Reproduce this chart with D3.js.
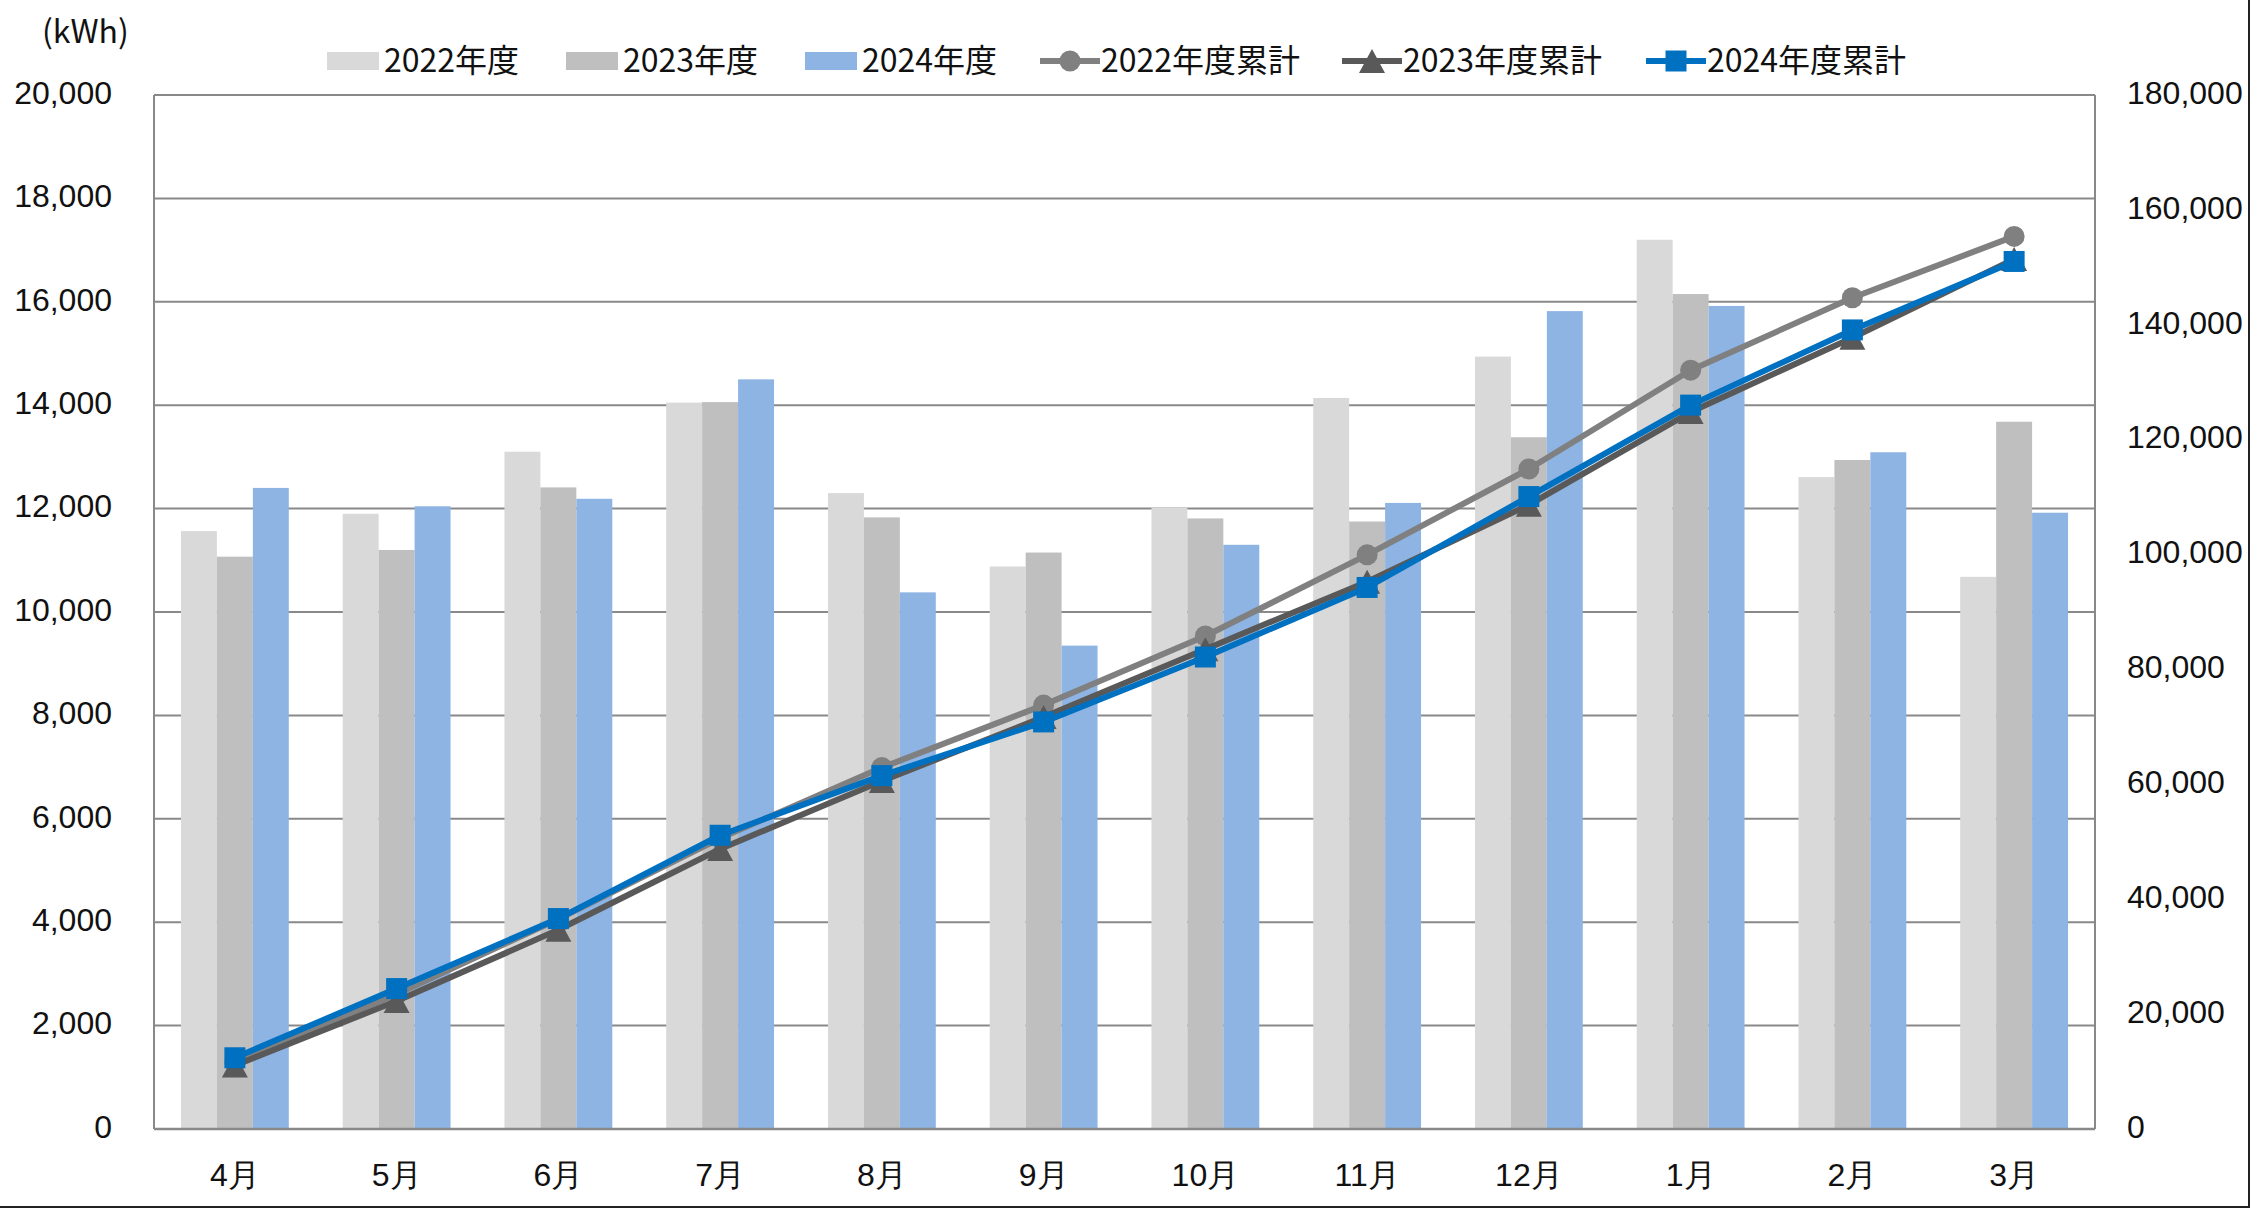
<!DOCTYPE html>
<html>
<head>
<meta charset="utf-8">
<script src="https://cdn.jsdelivr.net/npm/d3@7"></script>
<style>
    body { margin: 0; background: #fff; }
    svg { display: block; font-family: 'Noto Sans CJK JP', 'Noto Sans', sans-serif; }
</style>
</head>
<body>
<div id="chart"></div>
<script>
const months = ['4月', '5月', '6月', '7月', '8月', '9月', '10月', '11月', '12月', '1月', '2月', '3月'];
const barSeries = ['2022年度', '2023年度', '2024年度'];
const lineSeries = ['2022年度累計', '2023年度累計', '2024年度累計'];

// monthly usage (kWh)
const usage2022 = [11565, 11900, 13100, 14050, 12300, 10880, 12020, 14140, 14940, 17200, 12610, 10680];
const usage2023 = [11070, 11200, 12410, 14060, 11830, 11150, 11810, 11750, 13380, 16150, 12940, 13680];
const usage2024 = [12400, 12045, 12190, 14500, 10380, 9350, 11300, 12110, 15820, 15920, 13090, 11920];

// running totals (kWh)
const total2022 = [11565, 23465, 36565, 50615, 62915, 73795, 85815, 99955, 114895, 132095, 144705, 155385];
const total2023 = [11070, 22270, 34680, 48740, 60570, 71720, 83530, 95280, 108660, 124810, 137750, 151430];
const total2024 = [12400, 24445, 36635, 51135, 61515, 70865, 82165, 94275, 110095, 126015, 139105, 151025];

const leftTicks = [0, 2000, 4000, 6000, 8000, 10000, 12000, 14000, 16000, 18000, 20000];
const rightTicks = [0, 20000, 40000, 60000, 80000, 100000, 120000, 140000, 160000, 180000];

const barColors = ['#D9D9D9', '#BFBFBF', '#8EB4E3'];
const lineColors = ['#808080', '#595959', '#0070C0'];
const markerTypes = ['circle', 'triangle', 'square'];

const width = 2262;
const height = 1208;
const plot = { left: 154, right: 2095, top: 95, bottom: 1129 };
const gridColor = '#898989';
const textColor = '#111';
const fontSize = '32px';

const svg = d3.select('#chart').append('svg')
    .attr('width', width)
    .attr('height', height);

const x0 = d3.scaleBand()
    .domain(months)
    .range([plot.left, plot.right])
    .paddingInner(1 / 3)
    .paddingOuter(1 / 6);
const x1 = d3.scaleBand()
    .domain(barSeries)
    .range([0, x0.bandwidth()]);
const yLeft = d3.scaleLinear().domain([0, 20000]).range([plot.bottom, plot.top]);
const yRight = d3.scaleLinear().domain([0, 180000]).range([plot.bottom, plot.top]);

const usage = [usage2022, usage2023, usage2024];
const totals = [total2022, total2023, total2024];

// gridlines
svg.append('g')
    .selectAll('line')
    .data(leftTicks)
    .enter()
    .append('line')
    .attr('x1', plot.left)
    .attr('x2', plot.right)
    .attr('y1', (d) => yLeft(d))
    .attr('y2', (d) => yLeft(d))
    .attr('stroke', gridColor)
    .attr('stroke-width', 2);

// plot side lines
svg.append('line')
    .attr('x1', plot.left).attr('x2', plot.left)
    .attr('y1', plot.top).attr('y2', plot.bottom)
    .attr('stroke', gridColor).attr('stroke-width', 2);
svg.append('line')
    .attr('x1', plot.right).attr('x2', plot.right)
    .attr('y1', plot.top).attr('y2', plot.bottom)
    .attr('stroke', gridColor).attr('stroke-width', 2);

// bars
const rows = months.map((m, i) => ({
    month: m,
    values: barSeries.map((s, j) => ({ key: s, value: usage[j][i], color: barColors[j] })),
}));
svg.append('g')
    .selectAll('g')
    .data(rows)
    .enter()
    .append('g')
    .attr('transform', (d) => `translate(${x0(d.month)},0)`)
    .selectAll('rect')
    .data((d) => d.values)
    .enter()
    .append('rect')
    .attr('x', (d) => x1(d.key))
    .attr('width', x1.bandwidth())
    .attr('y', (d) => yLeft(d.value))
    .attr('height', (d) => yLeft(0) - yLeft(d.value))
    .attr('fill', (d) => d.color);

// baseline on top of bars
svg.append('line')
    .attr('x1', plot.left).attr('x2', plot.right)
    .attr('y1', plot.bottom).attr('y2', plot.bottom)
    .attr('stroke', gridColor).attr('stroke-width', 2.5);

function markerPath(type) {
    if (type === 'triangle') {
        return 'M0,-12L13,12L-13,12Z';
    }
    if (type === 'square') {
        return d3.symbol().type(d3.symbolSquare).size(21 * 21)();
    }
    return d3.symbol().type(d3.symbolCircle).size(Math.PI * 10.5 * 10.5)();
}

// cumulative lines
const cx = (m) => x0(m) + x0.bandwidth() / 2;
const line = d3.line()
    .x((d) => cx(d.month))
    .y((d) => yRight(d.value));

lineSeries.forEach((name, j) => {
    const pts = months.map((m, i) => ({ month: m, value: totals[j][i] }));
    const g = svg.append('g').attr('class', 'series');
    g.append('path')
        .datum(pts)
        .attr('d', line)
        .attr('fill', 'none')
        .attr('stroke', lineColors[j])
        .attr('stroke-width', 6)
        .attr('stroke-linejoin', 'round');
    g.selectAll('.marker')
        .data(pts)
        .enter()
        .append('path')
        .attr('class', 'marker')
        .attr('transform', (d) => `translate(${cx(d.month)},${yRight(d.value)})`)
        .attr('d', markerPath(markerTypes[j]))
        .attr('fill', lineColors[j]);
});

// axes
const styleAxis = (g) => {
    g.select('.domain').remove();
    g.selectAll('.tick line').remove();
    g.selectAll('.tick text')
        .attr('fill', textColor)
        .style('font-size', fontSize);
};

svg.append('g')
    .attr('transform', `translate(${plot.left},0)`)
    .call(d3.axisLeft(yLeft).tickValues(leftTicks).tickSize(0).tickPadding(42).tickFormat(d3.format(',')))
    .call(styleAxis)
    .call((g) => g.selectAll('.tick text').attr('dy', '0.26em'));

svg.append('g')
    .attr('transform', `translate(${plot.right},0)`)
    .call(d3.axisRight(yRight).tickValues(rightTicks).tickSize(0).tickPadding(32).tickFormat(d3.format(',')))
    .call(styleAxis)
    .call((g) => g.selectAll('.tick text').attr('dy', '0.26em'));

svg.append('g')
    .attr('transform', `translate(0,${plot.bottom})`)
    .call(d3.axisBottom(x0).tickSize(0))
    .call(styleAxis)
    .call((g) => g.selectAll('.tick text').attr('y', 47).attr('dy', '0.32em'));

// unit label
svg.append('text')
    .attr('x', 42)
    .attr('y', 33)
    .attr('dy', '0.32em')
    .attr('fill', textColor)
    .style('font-size', fontSize)
    .text('(kWh)');

// legend
const legendY = 61;
const barLegendX = [327, 566, 805];
barSeries.forEach((name, j) => {
    svg.append('rect')
        .attr('x', barLegendX[j])
        .attr('y', legendY - 9)
        .attr('width', 52)
        .attr('height', 18)
        .attr('fill', barColors[j]);
    svg.append('text')
        .attr('x', barLegendX[j] + 57)
        .attr('y', legendY)
        .attr('dy', '0.34em')
        .attr('fill', textColor)
        .style('font-size', fontSize)
        .text(name);
});

const lineLegendX = [1040, 1342, 1646];
lineSeries.forEach((name, j) => {
    const lx = lineLegendX[j];
    svg.append('line')
        .attr('x1', lx).attr('x2', lx + 60)
        .attr('y1', legendY).attr('y2', legendY)
        .attr('stroke', lineColors[j])
        .attr('stroke-width', 6);
    svg.append('path')
        .attr('transform', `translate(${lx + 30},${legendY})`)
        .attr('d', markerPath(markerTypes[j]))
        .attr('fill', lineColors[j]);
    svg.append('text')
        .attr('x', lx + 61)
        .attr('y', legendY)
        .attr('dy', '0.34em')
        .attr('fill', textColor)
        .style('font-size', fontSize)
        .text(name);
});

// outer frame edges
svg.append('line')
    .attr('x1', 2249).attr('x2', 2249)
    .attr('y1', 0).attr('y2', 1207)
    .attr('stroke', '#222').attr('stroke-width', 2);
svg.append('line')
    .attr('x1', 0).attr('x2', 2250)
    .attr('y1', 1207).attr('y2', 1207)
    .attr('stroke', '#222').attr('stroke-width', 2);
</script>
</body>
</html>
